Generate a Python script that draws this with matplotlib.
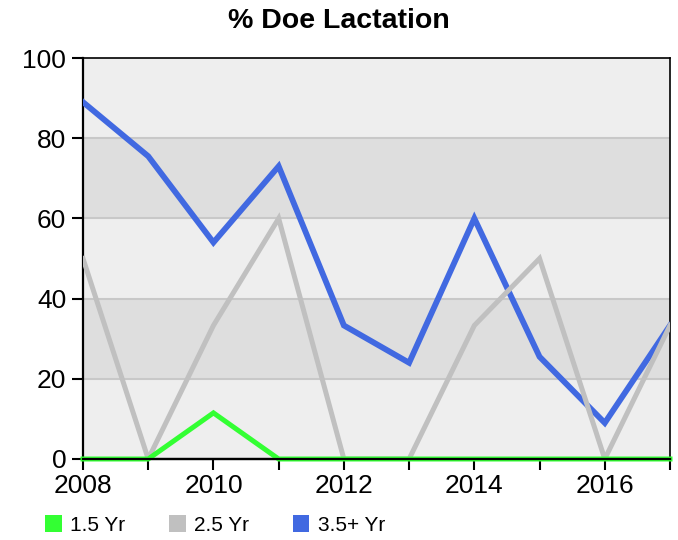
import matplotlib

matplotlib.use("Agg")
import matplotlib.pyplot as plt
from matplotlib.patches import Patch

# --- данные ---
years = [2008, 2009, 2010, 2011, 2012, 2013, 2014, 2015, 2016, 2017]
yr15 = [0, 0, 11.5, 0, 0, 0, 0, 0, 0, 0]
yr25 = [50, 0, 33.3, 60, 0, 0, 33.3, 50, 0, 33.3]
yr35 = [89, 75.5, 54, 73, 33.3, 24, 60, 25.5, 9, 33.3]
series_labels = ["1.5 Yr", "2.5 Yr", "3.5+ Yr"]
y_ticks = [0, 20, 40, 60, 80, 100]
x_label_years = [2008, 2010, 2012, 2014, 2016]

GREEN = "#33ff33"
GRAY = "#c0c0c0"
BLUE = "#4169e1"
BAND_LIGHT = "#eeeeee"
BAND_DARK = "#dedede"
GRID = "#c8c8c8"

plt.rcParams["font.family"] = ["Liberation Sans", "DejaVu Sans"]

fig = plt.figure(figsize=(6.78, 5.40), dpi=100, facecolor="white")
ax = fig.add_axes([83 / 678, 1 - 459 / 540, 587 / 678, 401 / 540])
ax.set_xlim(2008, 2017)
ax.set_ylim(0, 100)

# полосы фона
for i in range(len(y_ticks) - 1):
    ax.axhspan(y_ticks[i], y_ticks[i + 1],
               color=BAND_LIGHT if i % 2 == 0 else BAND_DARK, lw=0, zorder=0)
for t in y_ticks[1:-1]:
    ax.axhline(t, color=GRID, lw=1.5, zorder=1)

# линии (3.5+ снизу, 1.5 сверху)
ax.plot(years, yr35, color=BLUE, lw=4.2, zorder=3, solid_joinstyle="miter")
ax.plot(years, yr25, color=GRAY, lw=3.6, zorder=4, solid_joinstyle="miter")
ax.plot(years, yr15, color=GREEN, lw=3.6, zorder=5, solid_joinstyle="miter",
        clip_on=False)
ax.axhline(0, color="black", lw=1.6, zorder=6, clip_on=False)

for side in ("left", "bottom", "top", "right"):
    ax.spines[side].set_color("black")
    ax.spines[side].set_linewidth(1.6)
ax.spines["top"].set_linewidth(1.2)
ax.spines["right"].set_linewidth(1.2)

ax.set_yticks(y_ticks)
ax.set_xticks(years)
ax.set_xticklabels([str(y) if y in x_label_years else "" for y in years])
ax.tick_params(axis="both", direction="out", length=8, width=1.5,
               labelsize=19, colors="black", pad=3)
ax.tick_params(axis="y", pad=4)

# заголовок по центру всей картинки
fig.text(0.5, 1 - 21 / 540, "% Doe Lactation", ha="center", va="center",
         fontsize=20.5, fontweight="bold")

handles = [Patch(facecolor=c, edgecolor="none", label=l)
           for c, l in zip([GREEN, GRAY, BLUE], series_labels)]
fig.legend(handles=handles, loc="center left", bbox_to_anchor=(45 / 678, 1 - 525 / 540),
           ncol=3, frameon=False, prop={"size": 15},
           handlelength=0.8, handleheight=0.9, handletextpad=0.4, columnspacing=2.1,
           borderpad=0, borderaxespad=0)

fig.savefig("out.png", dpi=100, facecolor="white")
